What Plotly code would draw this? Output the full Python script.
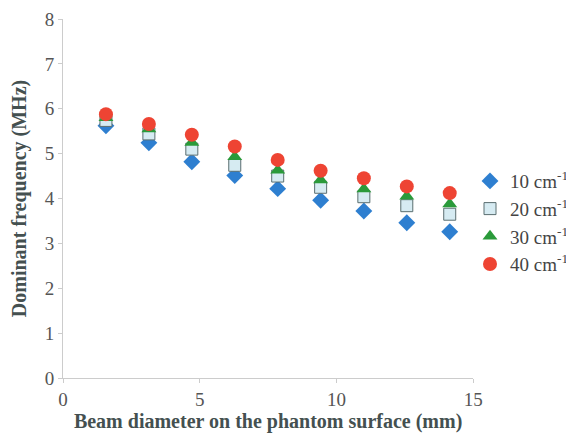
import plotly.graph_objects as go

beam_mm = [1.57, 3.14, 4.71, 6.28, 7.85, 9.42, 11.0, 12.57, 14.14]
f10 = [5.62, 5.24, 4.82, 4.51, 4.22, 3.96, 3.72, 3.46, 3.26]
f20 = [5.74, 5.44, 5.10, 4.74, 4.50, 4.25, 4.04, 3.84, 3.65]
f30 = [5.80, 5.55, 5.25, 4.93, 4.63, 4.41, 4.21, 4.05, 3.88]
f40 = [5.88, 5.66, 5.42, 5.16, 4.86, 4.62, 4.45, 4.27, 4.12]
names = ["10 cm<sup>-1</sup>", "20 cm<sup>-1</sup>", "30 cm<sup>-1</sup>", "40 cm<sup>-1</sup>"]

fig = go.Figure()
fig.add_trace(go.Scatter(x=beam_mm, y=f10, mode="markers", name=names[0],
                         marker=dict(symbol="diamond", size=13, color="#2e7fd0")))
fig.add_trace(go.Scatter(x=beam_mm, y=f20, mode="markers", name=names[1],
                         marker=dict(symbol="square", size=12, color="#d6ebf2",
                                     line=dict(color="#5a6e70", width=1))))
fig.add_trace(go.Scatter(x=beam_mm, y=f30, mode="markers", name=names[2],
                         marker=dict(symbol="triangle-up", size=13, color="#2a9a3a")))
fig.add_trace(go.Scatter(x=beam_mm, y=f40, mode="markers", name=names[3],
                         marker=dict(symbol="circle", size=14, color="#ee4433")))

font = "Liberation Serif"
tickfont = dict(family=font, size=19, color="#555555")
# page body has an 8px margin, so figure is sized/positioned to compensate
fig.update_layout(
    width=566, height=427,
    margin=dict(l=55, r=0, t=11, b=57),
    paper_bgcolor="white", plot_bgcolor="white",
    font=dict(family=font, size=19, color="#555555"),
    showlegend=True,
    legend=dict(x=0.80, y=0.433, xanchor="left", yanchor="middle",
                font=dict(family=font, size=19, color="#444444"),
                itemwidth=30, tracegroupgap=0, bgcolor="rgba(0,0,0,0)"),
    xaxis=dict(range=[0, 15], tickvals=[0, 5, 10, 15], domain=[0, 0.806],
               showgrid=False, zeroline=False, automargin=False,
               showline=True, linecolor="#cccccc", linewidth=1,
               ticks="outside", tickcolor="#cccccc", ticklen=4, tickfont=tickfont,
               title=dict(text="<b>Beam diameter on the phantom surface (mm)</b>",
                          font=dict(family=font, size=20, color="#445050"), standoff=2)),
    yaxis=dict(range=[0, 8], tickvals=list(range(9)), showgrid=False, zeroline=False,
               automargin=False,
               showline=True, linecolor="#cccccc", linewidth=1,
               ticks="outside", tickcolor="#cccccc", ticklen=4, tickfont=tickfont,
               title=dict(text="<b>Dominant frequency (MHz)</b>",
                          font=dict(family=font, size=20, color="#445050"), standoff=12)),
)
fig.write_html("out.html")
